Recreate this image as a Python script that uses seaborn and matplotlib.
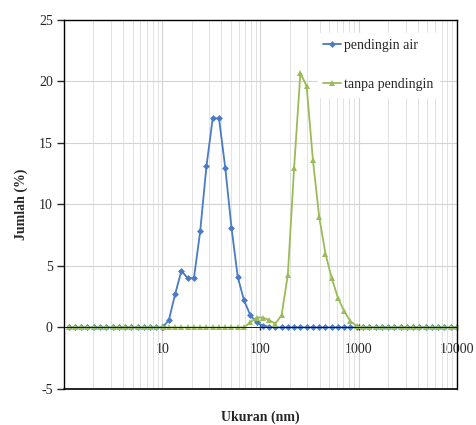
import numpy as np
import pandas as pd
import seaborn as sns
import matplotlib.pyplot as plt
from matplotlib.ticker import LogLocator, FixedLocator, NullFormatter

# size bins (nm)
ukuran = [1.117, 1.294, 1.499, 1.736, 2.01, 2.328, 2.696, 3.122, 3.615, 4.187,
          4.849, 5.615, 6.503, 7.531, 8.721, 10.1, 11.7, 13.54, 15.69, 18.17,
          21.04, 24.36, 28.21, 32.67, 37.84, 43.82, 50.75, 58.77, 68.06, 78.82,
          91.28, 105.7, 122.4, 141.8, 164.2, 190.1, 220.2, 255.0, 295.3, 342.0,
          396.1, 458.7, 531.2, 615.1, 712.4, 825.0, 955.4, 1106, 1281, 1484,
          1718, 1990, 2305, 2669, 3091, 3580, 4145, 4801, 5560, 6439, 7456,
          8635, 10000]

pendingin_air = [0]*16 + [0.6, 2.7, 4.6, 4.0, 4.0, 7.8, 13.1, 17.0, 17.0,
                          13.0, 8.1, 4.1, 2.2, 1.0, 0.4, 0.15, 0.05] + [0]*30

tanpa_pendingin = [0]*29 + [0.4, 0.8, 0.8, 0.6, 0.3, 1.0, 4.3, 13.0, 20.7,
                            19.6, 13.6, 9.0, 6.0, 4.0, 2.4, 1.3, 0.5, 0.1] + [0]*16

labels = ['pendingin air', 'tanpa pendingin']
colors = ['#4a7bc4', '#9bbb59']

sns.set_style('white')
plt.rcParams['font.family'] = ['Liberation Serif', 'DejaVu Serif']
plt.rcParams['axes.unicode_minus'] = False

fig = plt.figure(figsize=(4.77, 4.25), dpi=100)
ax = fig.add_axes([0.134, 0.085, 0.824, 0.868])

sns.lineplot(x=ukuran, y=pendingin_air, ax=ax, color=colors[0], marker='D',
             markersize=3.5, markeredgewidth=0, lw=1.3, label=labels[0])
sns.lineplot(x=ukuran, y=tanpa_pendingin, ax=ax, color=colors[1], marker='^',
             markersize=4.5, markeredgewidth=0, lw=1.3, label=labels[1])

ax.set_xscale('log')
ax.set_xlim(1, 10000)
ax.set_ylim(-5, 25)
ax.set_yticks(np.arange(-5, 26, 5))

ax.xaxis.set_major_locator(FixedLocator([10, 100, 1000, 10000]))
ax.set_xticklabels(['10', '100', '1000', '10000'])
ax.xaxis.set_minor_locator(LogLocator(base=10, subs=np.arange(2, 10)))
ax.xaxis.set_minor_formatter(NullFormatter())

ax.grid(True, which='major', color='#d4d4d4', lw=0.8)
ax.grid(True, which='minor', axis='x', color='#e2e2e2', lw=0.7)
ax.set_axisbelow(True)

for s in ['left', 'right', 'top', 'bottom']:
    ax.spines[s].set_color('black')
    ax.spines[s].set_linewidth(1.0)

# x axis crosses at y = 0, box kept on bottom
ax.spines['bottom'].set_position(('data', 0))
ax.spines['bottom'].set_linewidth(0.6)
ax.axhline(-5, color='black', lw=1.2, clip_on=False, zorder=5)

ax.tick_params(axis='y', which='major', direction='out', length=5, width=1,
               labelsize=10, pad=3, left=True)
ax.tick_params(axis='x', which='major', direction='inout', length=5, width=1,
               labelsize=10, pad=9, bottom=True)
ax.tick_params(axis='x', which='minor', length=0)

ax.set_xlabel('Ukuran (nm)', fontsize=10, fontweight='bold')
ax.xaxis.set_label_coords(0.5, -0.06)
ax.set_ylabel('Jumlah (%)', fontsize=10, fontweight='bold', labelpad=8)

leg = ax.legend(loc='upper right', bbox_to_anchor=(0.965, 0.975), frameon=True,
                fontsize=10, labelspacing=1.9, handlelength=1.3,
                handletextpad=0.2, borderaxespad=0.3)
leg.get_frame().set_facecolor('white')
leg.get_frame().set_edgecolor('white')
leg.get_frame().set_alpha(1)

fig.savefig('out.png', dpi=100)
